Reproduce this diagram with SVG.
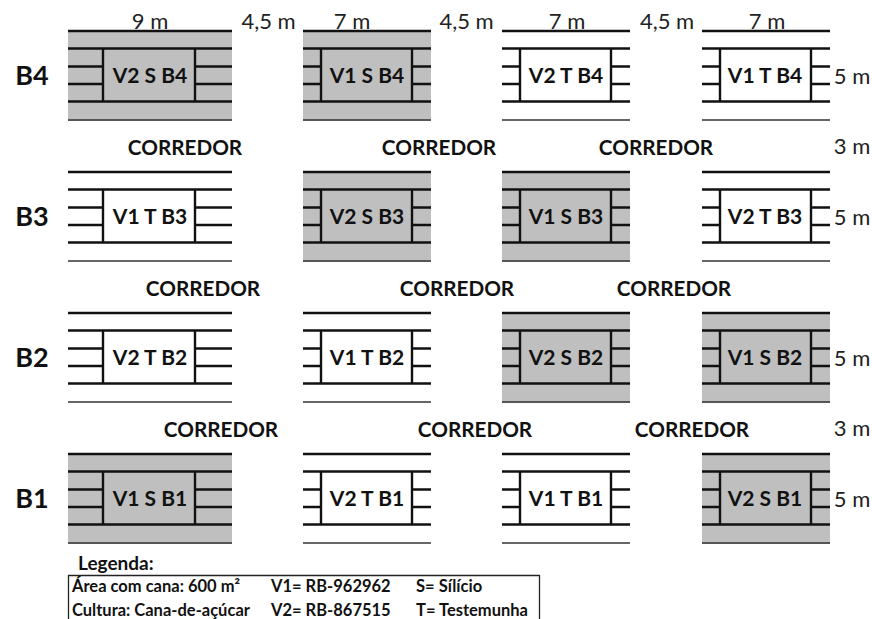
<svg xmlns="http://www.w3.org/2000/svg" xmlns:xlink="http://www.w3.org/1999/xlink" width="872" height="619" viewBox="0 0 872 619">
<style>
text{font-family:Lato,"Liberation Sans",sans-serif;fill:#111}
.b{font-weight:700}
.p{font-size:21px;font-weight:700;text-anchor:middle}
.c{font-size:20.700px;font-weight:700;text-anchor:middle}
.d{font-size:22px;text-anchor:middle;fill:#222}
.r{font-size:27px;font-weight:700;text-anchor:middle}
.l{font-size:16.500px;font-weight:700}
.g{fill:#bfbfbf}
.k{stroke:#111;stroke-width:2.4;fill:none}
.t{stroke:#333;stroke-width:1.4;fill:none}
</style>
<defs>
<g id="wide"><path class="k" d="M0 1H164M0 18.500H164M0 36.500H35M127 36.500H164M0 54H35M127 54H164M0 71.500H164M35 18.500V71.500M127 18.500V71.500"/><path class="t" d="M0 90H164"/></g>
<g id="narrow"><path class="k" d="M0 1H128M0 18.500H128M0 36.500H18M109 36.500H128M0 54H18M109 54H128M0 71.500H128M18 18.500V71.500M109 18.500V71.500"/><path class="t" d="M0 90H128"/></g>
<rect id="gw" class="g" width="164" height="90"/>
<rect id="gn" class="g" width="128" height="90"/>
</defs>
<g id="dimensions">
<text class="d" x="150" y="29">9 m</text><text class="d" x="268.500" y="29">4,5 m</text>
<text class="d" x="352" y="29">7 m</text><text class="d" x="466.500" y="29">4,5 m</text>
<text class="d" x="567" y="29">7 m</text><text class="d" x="667" y="29">4,5 m</text>
<text class="d" x="767" y="29">7 m</text>
<text class="d" x="852" y="84">5 m</text><text class="d" x="852" y="154">3 m</text>
<text class="d" x="852" y="225">5 m</text><text class="d" x="852" y="366">5 m</text>
<text class="d" x="852" y="436">3 m</text><text class="d" x="852" y="507">5 m</text>
</g>
<g id="block-labels">
<text class="r" x="32" y="85">B4</text><text class="r" x="32" y="226">B3</text>
<text class="r" x="32" y="367">B2</text><text class="r" x="32" y="508">B1</text>
</g>
<g id="corridors">
<text class="c" x="185" y="155">CORREDOR</text><text class="c" x="439" y="155">CORREDOR</text><text class="c" x="656" y="155">CORREDOR</text>
<text class="c" x="203" y="296">CORREDOR</text><text class="c" x="457" y="296">CORREDOR</text><text class="c" x="674" y="296">CORREDOR</text>
<text class="c" x="221" y="437">CORREDOR</text><text class="c" x="475" y="437">CORREDOR</text><text class="c" x="692" y="437">CORREDOR</text>
</g>
<g id="plot-v2sb4"><use xlink:href="#gw" x="68" y="31"/><use xlink:href="#wide" x="68" y="30"/><text class="p" x="150" y="83">V2 S B4</text></g>
<g id="plot-v1sb4"><use xlink:href="#gn" x="303" y="31"/><use xlink:href="#narrow" x="303" y="30"/><text class="p" x="367" y="83">V1 S B4</text></g>
<g id="plot-v2tb4"><use xlink:href="#narrow" x="502" y="30"/><text class="p" x="566" y="83">V2 T B4</text></g>
<g id="plot-v1tb4"><use xlink:href="#narrow" x="702" y="30"/><text class="p" x="765" y="83">V1 T B4</text></g>
<g id="plot-v1tb3"><use xlink:href="#wide" x="68" y="171"/><text class="p" x="150" y="224">V1 T B3</text></g>
<g id="plot-v2sb3"><use xlink:href="#gn" x="303" y="172"/><use xlink:href="#narrow" x="303" y="171"/><text class="p" x="367" y="224">V2 S B3</text></g>
<g id="plot-v1sb3"><use xlink:href="#gn" x="502" y="172"/><use xlink:href="#narrow" x="502" y="171"/><text class="p" x="566" y="224">V1 S B3</text></g>
<g id="plot-v2tb3"><use xlink:href="#narrow" x="702" y="171"/><text class="p" x="765" y="224">V2 T B3</text></g>
<g id="plot-v2tb2"><use xlink:href="#wide" x="68" y="312"/><text class="p" x="150" y="365">V2 T B2</text></g>
<g id="plot-v1tb2"><use xlink:href="#narrow" x="303" y="312"/><text class="p" x="367" y="365">V1 T B2</text></g>
<g id="plot-v2sb2"><use xlink:href="#gn" x="502" y="313"/><use xlink:href="#narrow" x="502" y="312"/><text class="p" x="566" y="365">V2 S B2</text></g>
<g id="plot-v1sb2"><use xlink:href="#gn" x="702" y="313"/><use xlink:href="#narrow" x="702" y="312"/><text class="p" x="765" y="365">V1 S B2</text></g>
<g id="plot-v1sb1"><use xlink:href="#gw" x="68" y="454"/><use xlink:href="#wide" x="68" y="453"/><text class="p" x="150" y="506">V1 S B1</text></g>
<g id="plot-v2tb1"><use xlink:href="#narrow" x="303" y="453"/><text class="p" x="367" y="506">V2 T B1</text></g>
<g id="plot-v1tb1"><use xlink:href="#narrow" x="502" y="453"/><text class="p" x="566" y="506">V1 T B1</text></g>
<g id="plot-v2sb1"><use xlink:href="#gn" x="702" y="454"/><use xlink:href="#narrow" x="702" y="453"/><text class="p" x="765" y="506">V2 S B1</text></g>
<g id="legend">
<text class="b" x="78" y="570" font-size="19">Legenda:</text>
<path d="M68.500 620V575.500H539.500V620" fill="none" stroke="#222" stroke-width="1.300"/>
<text class="l" x="72" y="592">Área com cana: 600 m²</text><text class="l" x="271" y="592">V1= RB-962962</text><text class="l" x="416" y="592">S= Sílício</text>
<text class="l" x="72" y="616">Cultura: Cana-de-açúcar</text><text class="l" x="271" y="616">V2= RB-867515</text><text class="l" x="416" y="616">T= Testemunha</text>
</g>
</svg>
